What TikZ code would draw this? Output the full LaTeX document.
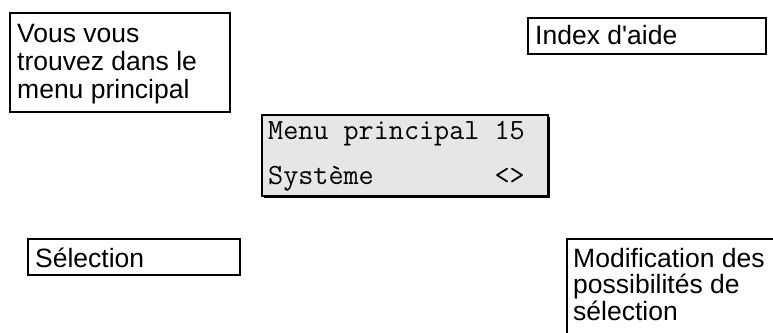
\documentclass[tikz,border=0pt]{standalone}
\usepackage{fontspec}
\setmainfont{Liberation Sans}[Ligatures=TeXOff]
\definecolor{lcdgray}{RGB}{230,230,230}
\begin{document}
\begin{tikzpicture}[x=1pt,y=-1pt,
  box/.style={draw=black, line width=2pt, rectangle, anchor=north west, inner sep=0pt},
  txt/.style={anchor=base west, inner sep=0pt, font=\fontsize{26.5}{28}\selectfont},
  mono/.style={inner sep=0pt, font=\ttfamily\fontsize{29.3}{30}\selectfont},
  lcd/.style={draw=black, line width=1.5pt, fill=lcdgray, rectangle, anchor=north west, inner sep=0pt},
  lcdshadow/.style={fill=black, rectangle, anchor=north west, inner sep=0pt}]
\useasboundingbox (0,0) rectangle (773,332);
% box 1
\node[box, minimum width=220pt, minimum height=99pt] (b1) at (9,12) {};
\node[txt] (b1l1) at (17,42) {Vous vous};
\node[txt] (b1l2) at (17,70) {trouvez dans le};
\node[txt] (b1l3) at (17,98) {menu principal};
% box 2
\node[box, minimum width=238pt, minimum height=36pt] (b2) at (527,17) {};
\node[txt] (b2l1) at (535,44) {Index d'aide};
% LCD
\node[lcdshadow, minimum width=286pt, minimum height=81pt] (lcds) at (264,117) {};
\node[lcd, minimum width=286pt, minimum height=81pt] (lcd) at (261,114) {};
\node[mono, anchor=base west] (r1) at (268,139) {Menu principal 15};
\node[mono, anchor=base west] (r2a) at (268,184) {Système};
\node[mono, anchor=base east] (r2b) at (r1.base east |- r2a.base) {<>};
% box 4
\node[box, minimum width=212pt, minimum height=36pt] (b4) at (27,238) {};
\node[txt] (b4l1) at (35,267) {Sélection};
% box 5 (clipped at right and bottom)
\node[box, minimum width=240pt, minimum height=120pt] (b5) at (566,238) {};
\node[txt] (b5l1) at (573,267) {Modification des};
\node[txt] (b5l2) at (573,293) {possibilités de};
\node[txt] (b5l3) at (573,320) {sélection};
\end{tikzpicture}
\end{document}
